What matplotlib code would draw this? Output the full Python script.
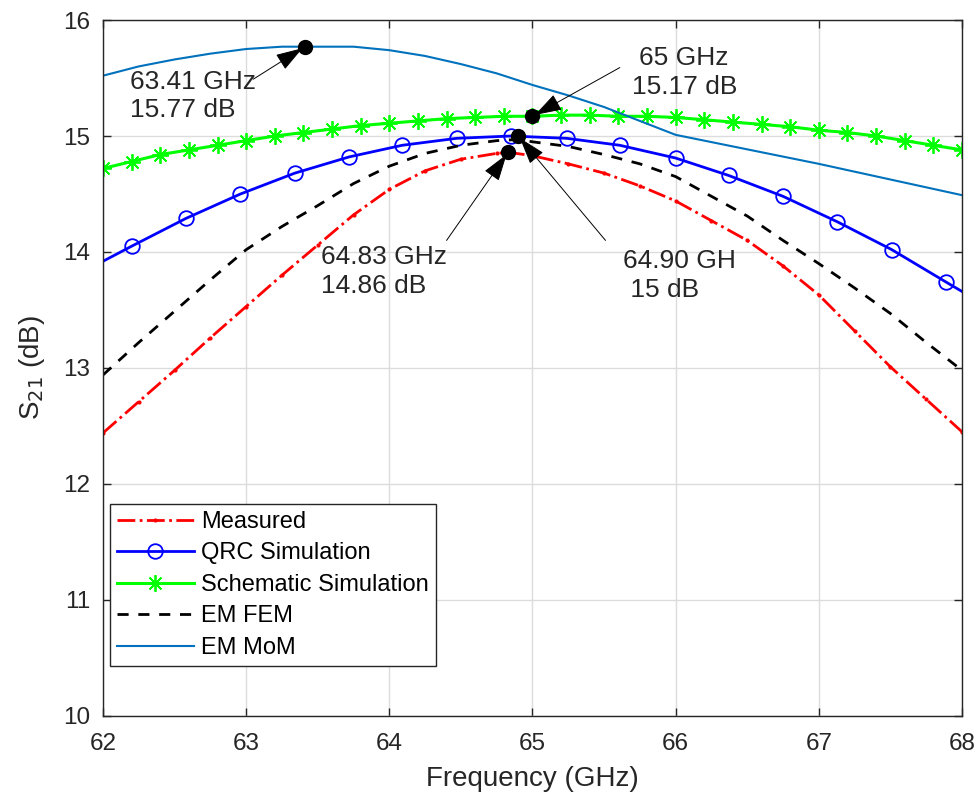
import matplotlib
matplotlib.use("Agg")
import matplotlib.pyplot as plt

plt.rcParams['font.family'] = ['Liberation Sans', 'DejaVu Sans']

# Measured
f_meas = [62, 62.25, 62.5, 62.75, 63, 63.25, 63.5, 63.75, 64, 64.25, 64.5, 64.75, 64.83,
          65, 65.25, 65.5, 65.75, 66, 66.25, 66.5, 66.75, 67, 67.25, 67.5, 67.75, 68]
s21_meas = [12.44, 12.71, 12.98, 13.26, 13.53, 13.80, 14.06, 14.32, 14.54, 14.70, 14.80, 14.85, 14.86,
            14.83, 14.76, 14.68, 14.57, 14.44, 14.27, 14.10, 13.88, 13.63, 13.32, 13.01, 12.73, 12.45]

# QRC simulation (points at the marker positions, plus the ends)
f_qrc = [62, 62.2, 62.58, 62.96, 63.34, 63.72, 64.09, 64.47, 64.85,
         65.24, 65.61, 66.0, 66.37, 66.75, 67.13, 67.51, 67.89, 68]
s21_qrc = [13.92, 14.05, 14.29, 14.50, 14.68, 14.82, 14.92, 14.98, 15.00,
           14.98, 14.92, 14.81, 14.66, 14.48, 14.26, 14.02, 13.74, 13.66]

# Schematic simulation
f_sch = [62, 62.2, 62.4, 62.6, 62.8, 63, 63.2, 63.4, 63.6, 63.8, 64, 64.2, 64.4, 64.6, 64.8,
         65, 65.2, 65.4, 65.6, 65.8, 66, 66.2, 66.4, 66.6, 66.8, 67, 67.2, 67.4, 67.6, 67.8, 68]
s21_sch = [14.72, 14.78, 14.84, 14.88, 14.92, 14.96, 15.00, 15.03, 15.06, 15.09, 15.11, 15.13, 15.15, 15.16, 15.17,
           15.17, 15.18, 15.18, 15.17, 15.17, 15.16, 15.14, 15.12, 15.10, 15.08, 15.05, 15.03, 15.00, 14.96, 14.92, 14.88]

# EM FEM
f_fem = [62, 62.25, 62.5, 62.75, 63, 63.25, 63.5, 63.75, 64, 64.25, 64.5, 64.75, 64.9,
         65, 65.25, 65.5, 65.75, 66, 66.25, 66.5, 66.75, 67, 67.25, 67.5, 67.75, 68]
s21_fem = [12.94, 13.22, 13.49, 13.76, 14.02, 14.22, 14.40, 14.59, 14.74, 14.85, 14.92, 14.96, 14.97,
           14.95, 14.91, 14.84, 14.76, 14.65, 14.48, 14.31, 14.10, 13.90, 13.69, 13.47, 13.22, 12.98]

# EM MoM
f_mom = [62, 62.25, 62.5, 62.75, 63, 63.25, 63.41, 63.5, 63.75, 64, 64.25, 64.5, 64.75,
         65, 65.25, 65.5, 65.75, 66, 67, 68]
s21_mom = [15.52, 15.60, 15.66, 15.71, 15.75, 15.77, 15.77, 15.77, 15.77, 15.74, 15.69, 15.62, 15.54,
           15.44, 15.35, 15.25, 15.13, 15.01, 14.76, 14.49]

# data tips: (x, y, label, text x, text y, arrow tail x, arrow tail y, ha)
tips = [
    (63.41, 15.77, "63.41 GHz\n15.77 dB", 62.19, 15.345, 63.05, 15.49, "left"),
    (65.00, 15.17, "65 GHz\n15.17 dB", 66.06, 15.55, 65.61, 15.59, "center"),
    (64.83, 14.86, "64.83 GHz\n14.86 dB", 63.52, 13.83, 64.40, 14.10, "left"),
    (64.90, 15.00, "64.90 GH\n 15 dB", 65.63, 13.80, 65.51, 14.10, "left"),
]

fig = plt.figure(figsize=(9.8, 8.07), dpi=100)
ax = fig.add_axes([0.1051, 0.1128, 0.8765, 0.8624])

ax.plot(f_meas, s21_meas, color='red', ls='-.', lw=2, marker='.', ms=4, label='Measured')
ax.plot(f_qrc, s21_qrc, color='blue', ls='-', lw=2, marker='o', ms=10.5, mfc='none', mew=1.3,
        markevery=list(range(1, len(f_qrc) - 1)), label='QRC Simulation')
ax.plot(f_sch, s21_sch, color=(0, 1, 0), ls='-', lw=2.2, marker=(8, 2, 0), ms=12, mew=1.3,
        label='Schematic Simulation')
ax.plot(f_fem, s21_fem, color='black', ls=(0, (4, 3.5)), lw=2, label='EM FEM')
ax.plot(f_mom, s21_mom, color='#0072BD', ls='-', lw=1.5, label='EM MoM')

for x, y, txt, tx, ty, ax_x, ax_y, ha in tips:
    ax.plot(x, y, 'o', color='black', ms=10, zorder=5)
    ax.annotate('', xy=(x, y), xytext=(ax_x, ax_y),
                arrowprops=dict(arrowstyle='-|>,head_length=1.7,head_width=0.55',
                                color='black', lw=0.7, shrinkA=0, shrinkB=2),
                zorder=6)
    ax.text(tx, ty, txt, fontsize=19, color='#262626', ha=ha, va='center',
            multialignment=ha, linespacing=1.25)

ax.set_xlim(62, 68)
ax.set_ylim(10, 16)
ax.set_xticks(range(62, 69))
ax.set_yticks(range(10, 17))
ax.grid(True, color='#dcdcdc', lw=1)
ax.set_axisbelow(True)
ax.tick_params(direction='in', length=6, width=1, top=True, right=True,
               labelsize=17.5, colors='#262626')
ax.tick_params(axis='x', pad=12)
ax.tick_params(axis='y', pad=9)
for s in ax.spines.values():
    s.set_color('#262626')
    s.set_linewidth(1)

ax.set_xlabel('Frequency (GHz)', fontsize=20, color='#262626', labelpad=8)
ax.set_ylabel('S$_{21}$ (dB)', fontsize=20, color='#262626', labelpad=12)

leg = ax.legend(loc='lower left', bbox_to_anchor=(0.008, 0.072), fontsize=17,
                handlelength=3.25, labelspacing=0.4, borderpad=0.3, handletextpad=0.3,
                fancybox=False, framealpha=1, edgecolor='#262626', borderaxespad=0)
leg.get_frame().set_linewidth(1)

fig.savefig('out.png', dpi=100)
